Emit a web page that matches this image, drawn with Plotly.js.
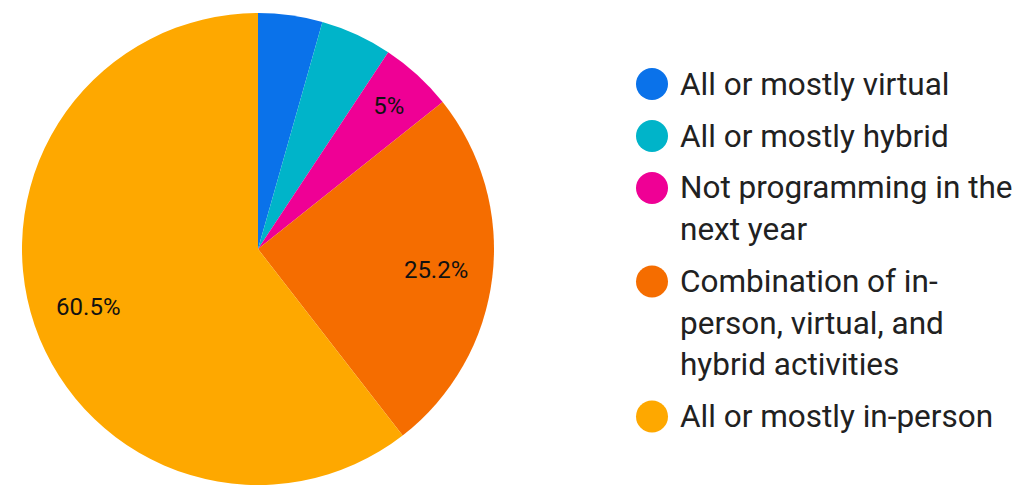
<!DOCTYPE html>
<html>
<head>
<meta charset="utf-8">
<script src="https://cdn.plot.ly/plotly-3.0.1.min.js"></script>
<style>
  html, body { margin: 0; padding: 0; background: #ffffff; }
  #chart { width: 1022px; height: 485px; }
</style>
</head>
<body>
<div id="chart"></div>
<script>
// ---- data ----
const categories = [
  "All or mostly virtual",
  "All or mostly hybrid",
  "Not programming in the next year",
  "Combination of in-person, virtual, and hybrid activities",
  "All or mostly in-person"
];
const legendLabels = [
  "All or mostly virtual",
  "All or mostly hybrid",
  "Not programming in the<br>next year",
  "Combination of in-<br>person, virtual, and<br>hybrid activities",
  "All or mostly in-person"
];
const percentages = [4.4, 4.9, 5.0, 25.2, 60.5];
const showSliceLabel = [false, false, true, true, true];
const colors = ["#0a72ea", "#00b4c9", "#ef0095", "#f56d00", "#fea800"];

// ---- layout constants ----
const W = 1022, H = 485;
const FONT = "Roboto, 'Noto Sans', Arial, sans-serif";
const CX = 258, CY = 249, R = 236;

function domainFor(r) {
  return {
    x: [(CX - r) / W, (CX + r) / W],
    y: [Math.max(0, (H - (CY + r)) / H), (H - (CY - r)) / H]
  };
}

const pctText = v => (+v.toFixed(1)).toString() + "%";
const isSmall = v => v < 10;
// labels for the large slices and for the small ones are placed by two text rings
const textLarge = percentages.map((v, i) => showSliceLabel[i] && !isSmall(v) ? pctText(v) : "");
const textSmall = percentages.map((v, i) => showSliceLabel[i] && isSmall(v) ? pctText(v) : "");

const common = {
  type: "pie",
  labels: categories,
  values: percentages,
  sort: false,
  direction: "clockwise",
  rotation: 0,
  showlegend: false
};

const basePie = Object.assign({}, common, {
  domain: { x: [21 / W, 495 / W], y: [0, 472 / H] },
  marker: { colors: colors, line: { width: 0 } },
  textinfo: "none",
  hoverinfo: "label+percent"
});

function labelRing(text, r) {
  return Object.assign({}, common, {
    domain: domainFor(r),
    hole: 0.52,
    marker: { colors: categories.map(() => "rgba(0,0,0,0)"), line: { width: 0 } },
    text: text,
    textinfo: "text",
    textposition: "inside",
    insidetextorientation: "horizontal",
    textfont: { family: FONT, size: 24, color: "#111111" },
    hoverinfo: "skip"
  });
}

// ---- custom legend (round markers, wrapped labels) ----
const legendX = 679, markerX = 652, markerR = 16;
const firstY = 84, lineGap = 41.5, itemGap = 52;
const annotations = [];
const shapes = [];
let y = firstY;
legendLabels.forEach((lab, i) => {
  if (i > 0) y += itemGap;
  shapes.push({
    type: "circle", xref: "paper", yref: "paper",
    x0: (markerX - markerR) / W, x1: (markerX + markerR) / W,
    y0: 1 - (y + markerR) / H, y1: 1 - (y - markerR) / H,
    fillcolor: colors[i], line: { width: 0 }
  });
  const lines = lab.split("<br>");
  lines.forEach((ln, j) => {
    if (j > 0) y += lineGap;
    annotations.push({
      xref: "paper", yref: "paper",
      x: legendX / W, y: 1 - y / H,
      xanchor: "left", yanchor: "middle",
      text: ln, showarrow: false,
      font: { family: FONT, size: 31.5, color: "#212121" },
      borderpad: 0
    });
  });
});

const layout = {
  width: W, height: H,
  margin: { l: 0, r: 0, t: 0, b: 0 },
  paper_bgcolor: "#ffffff",
  plot_bgcolor: "#ffffff",
  showlegend: false,
  font: { family: FONT },
  annotations: annotations,
  shapes: shapes
};

Plotly.newPlot("chart",
  [basePie, labelRing(textLarge, R), labelRing(textSmall, 224)],
  layout, { displayModeBar: false, staticPlot: true });
</script>
</body>
</html>
